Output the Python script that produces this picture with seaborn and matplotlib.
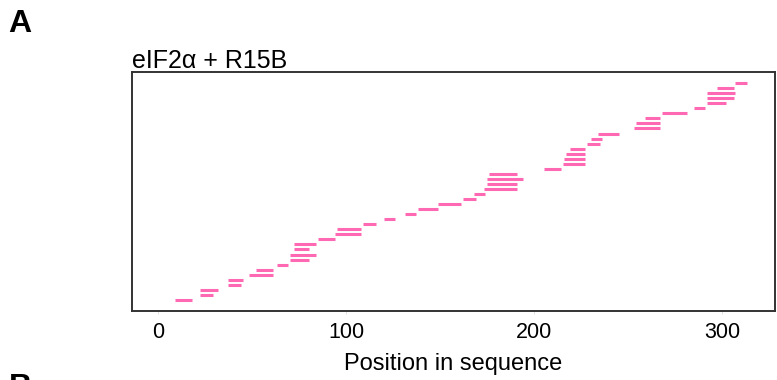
import matplotlib
matplotlib.use("Agg")
import matplotlib.pyplot as plt
import seaborn as sns
import pandas as pd

# Peptide coverage (start, end positions), ordered bottom to top
starts = [9, 22, 22, 37, 37, 48, 52, 63, 70, 70, 72, 72, 85, 94, 95, 109, 120, 131,
          138, 149, 162, 168, 173, 175, 175, 176, 205, 215, 216, 217, 219, 228, 230,
          234, 253, 254, 259, 268, 285, 292, 292, 292, 297, 307]
ends = [18, 29, 32, 44, 45, 61, 61, 69, 80, 84, 80, 84, 94, 108, 108, 116, 126, 137,
        149, 161, 169, 174, 191, 191, 194, 191, 214, 227, 227, 227, 227, 235, 236,
        245, 267, 267, 267, 281, 291, 302, 306, 307, 306, 313]
title = "eIF2\u03b1 + R15B"
xlabel = "Position in sequence"
xticks = [0, 100, 200, 300]

rows = []
for i, (s, e) in enumerate(zip(starts, ends)):
    rows.append({"pep": i, "pos": s, "row": i})
    rows.append({"pep": i, "pos": e, "row": i})
df = pd.DataFrame(rows)

sns.set_style("white")
plt.rcParams["font.family"] = ["Liberation Sans", "DejaVu Sans"]

fig = plt.figure(figsize=(7.77, 3.8), dpi=100)
ax = fig.add_axes([0.1699, 0.1816, 0.8275, 0.6289])

sns.lineplot(data=df, x="pos", y="row", units="pep", estimator=None,
             color="#ff69b4", linewidth=2.2, solid_capstyle="butt", ax=ax, legend=False)

ax.set_xlim(-14, 328)
ax.set_ylim(-2.2, 45.2)
ax.set_yticks([])
ax.set_ylabel("")
ax.set_xticks(xticks)
ax.set_xticklabels([str(t) for t in xticks], fontsize=15.5, color="black")
ax.tick_params(axis="x", length=2, width=0.6, color="#dddddd", pad=6, bottom=True)
ax.set_xlabel(xlabel, fontsize=17, labelpad=7, color="black")
for sp in ax.spines.values():
    sp.set_color("#333333")
    sp.set_linewidth(1.4)

ax.set_title(title, loc="left", fontsize=18, pad=3, color="black")
fig.text(0.011, 0.975, "A", fontsize=23, fontweight="bold", va="top", ha="left", color="black")
fig.text(0.011, -0.02, "B", fontsize=23, fontweight="bold", va="center", ha="left", color="black")

fig.savefig("out.png", dpi=100)
